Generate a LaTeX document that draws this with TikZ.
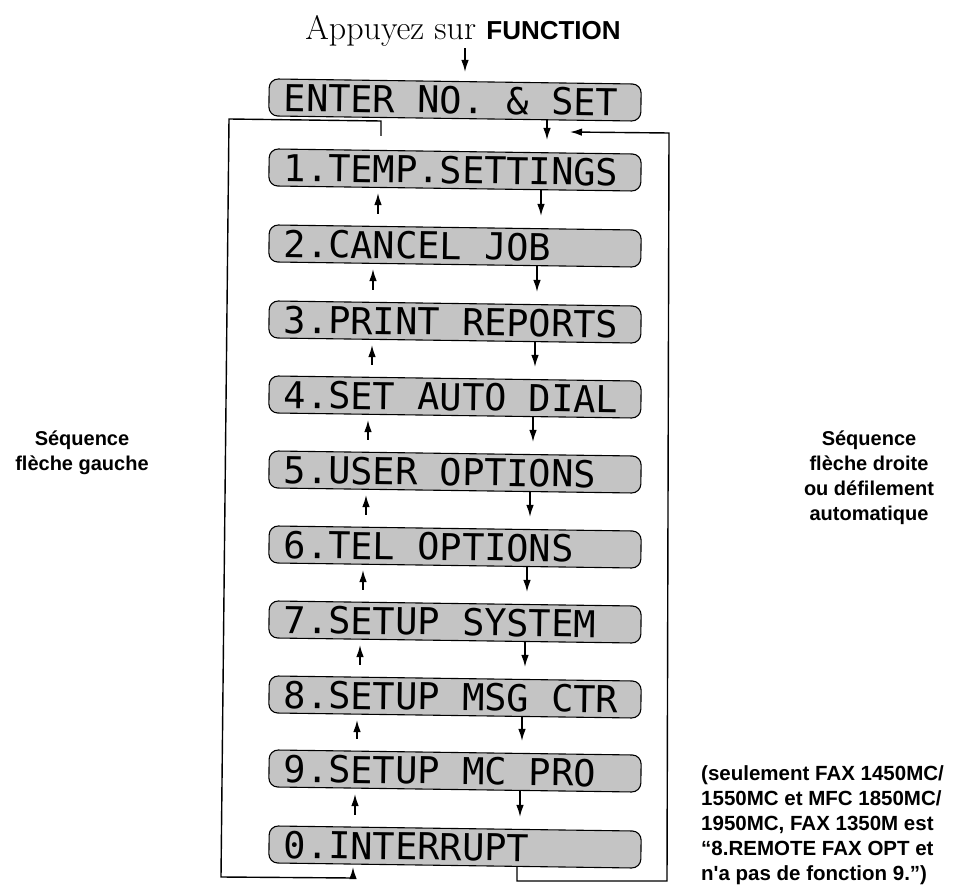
\documentclass[tikz,border=0pt]{standalone}
\usepackage{fontspec}
\newfontfamily\lsans{Liberation Sans}
\newfontfamily\lcd{DejaVu Sans Mono}
\usetikzlibrary{arrows.meta}
\definecolor{lcdgray}{gray}{0.77}
\newcommand\lsp{\hspace*{0.6021em}}
\begin{document}
\begin{tikzpicture}[x=1pt,y=-1pt,
  lcdbox/.style={draw=black, line width=1.1pt, rounded corners=9pt, fill=lcdgray,
    minimum height=37pt, text width=342pt, inner xsep=15pt, inner ysep=0pt, align=left,
    font=\lcd\fontsize{37}{37}\selectfont, text height=27pt, text depth=0pt, rotate=-0.8},
  conn/.style={line width=1.4pt},
  arr/.style={conn, -{Latex[length=12pt,width=7.5pt]}},
  lbl/.style={font=\lsans\bfseries\fontsize{20}{25}\selectfont, align=center, inner sep=0pt},
  note/.style={font=\lsans\bfseries\fontsize{20.5}{25}\selectfont, align=left, inner sep=0pt},
]
\useasboundingbox (0,0) rectangle (956,893);

% title
\node[inner sep=0pt, anchor=base] (t1) at (463,40) {\fontsize{34}{34}\selectfont Appuyez sur {\lsans\bfseries\fontsize{26}{26}\selectfont FUNCTION}};
\coordinate (ta) at (465,0);

% boxes
\node[lcdbox] (e)  at (455,100) {ENTER\lsp NO.\lsp\&\lsp SET};
\node[lcdbox] (b1) at (455,170) {1.TEMP.SETTINGS};
\node[lcdbox] (b2) at (455,246) {2.CANCEL\lsp JOB};
\node[lcdbox] (b3) at (455,322) {3.PRINT\lsp REPORTS};
\node[lcdbox] (b4) at (455,397) {4.SET\lsp AUTO\lsp DIAL};
\node[lcdbox] (b5) at (455,472) {5.USER\lsp OPTIONS};
\node[lcdbox] (b6) at (455,547) {6.TEL\lsp OPTIONS};
\node[lcdbox] (b7) at (455,622) {7.SETUP\lsp SYSTEM};
\node[lcdbox] (b8) at (455,697) {8.SETUP\lsp MSG\lsp CTR};
\node[lcdbox] (b9) at (455,771) {9.SETUP\lsp MC\lsp PRO};
\node[lcdbox] (b0) at (455,847) {0.INTERRUPT};

% title arrow
\draw[arr, shorten <=1pt, shorten >=9pt] (t1.south -| ta) -- (e.north -| ta);

% down arrows (right sequence)
\foreach \a/\b/\x in {e/b1/547, b1/b2/541, b2/b3/537, b3/b4/535, b4/b5/533, b5/b6/530, b6/b7/527, b7/b8/525, b8/b9/522, b9/b0/520}{
  \coordinate (d\a) at (\x,0);
  \draw[arr, shorten >=11pt] (\a.south -| d\a) -- (\b.north -| d\a);
}
% up arrows (left sequence)
\foreach \a/\b/\x in {b1/b2/378, b2/b3/373, b3/b4/372, b4/b5/368, b5/b6/366, b6/b7/363, b7/b8/360, b8/b9/357, b9/b0/355}{
  \coordinate (u\a) at (\x,0);
  \draw[arr, shorten <=13pt, shorten >=4pt] (\b.north -| u\a) -- (\a.south -| u\a);
}

% left wrap loop: from 1 back to 0
\coordinate (l0) at (381,136);
\coordinate (l1) at (381,121);
\coordinate (l2) at (229,119);
\coordinate (l3) at (221,877);
\coordinate (l4) at (353,878);
\draw[arr, shorten >=1pt] (l0) -- (l1) -- (l2) -- (l3) -- (l4) -- (b0.south -| l4);

% right wrap loop: from 0 back to 1
\coordinate (r0) at (517,0);
\coordinate (r1) at (517,881);
\coordinate (r2) at (667,881);
\coordinate (r3) at (669,133);
\coordinate (r4) at (570,132);
\draw[arr] (b0.south -| r0) -- (r1) -- (r2) -- (r3) -- (r4);

% side labels
\node[lbl] (sl) at (82,453) {Séquence\\flèche gauche};
\node[lbl] (sr) at (869,478) {Séquence\\flèche droite\\ou défilement\\automatique};
\node[note, anchor=north west] (nt) at (701,765) {(seulement FAX 1450MC/\\1550MC et MFC 1850MC/\\1950MC, FAX 1350M est\\“8.REMOTE FAX OPT et\\n'a pas de fonction 9.”)};
\end{tikzpicture}
\end{document}
